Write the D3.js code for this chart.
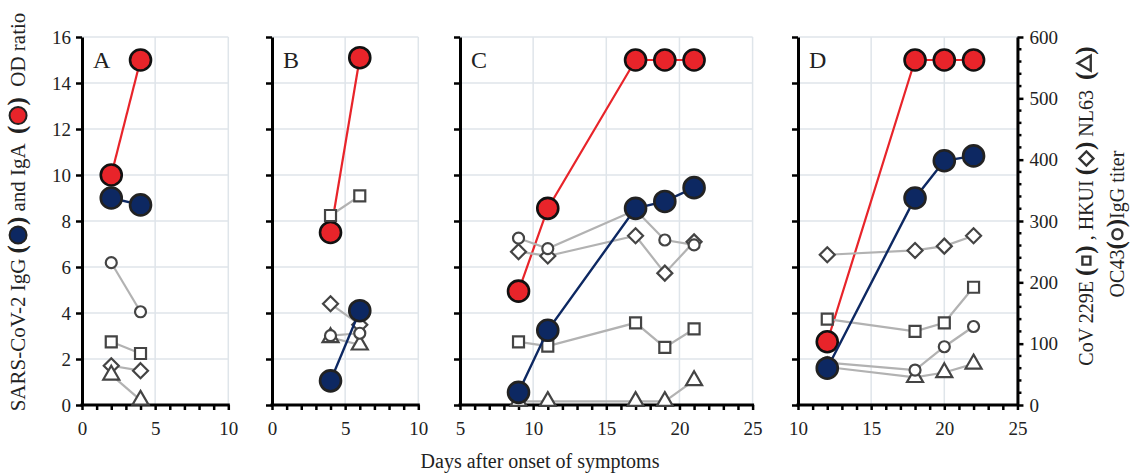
<!DOCTYPE html>
<html>
<head>
<meta charset="utf-8">
<script src="https://cdn.jsdelivr.net/npm/d3@7"></script>
<style>
  body { margin: 0; background: #fff; }
  text { font-family: "Liberation Serif", "DejaVu Serif", serif; fill: #222; }
</style>
</head>
<body>
<script>
const width = 1133;
const height = 475;

// data, one entry per panel
const panelNames = ["A", "B", "C", "D"];
const xDomains = [[0, 10], [0, 10], [5, 25], [10, 25]];
const days = [[2, 4], [4, 6], [9, 11, 17, 19, 21], [12, 18, 20, 22]];
const igaOD = [[10, 15], [7.5, 15.1], [4.95, 8.55, 15, 15, 15], [2.75, 15, 15, 15]];
const iggOD = [[9.0, 8.7], [1.05, 4.1], [0.55, 3.25, 8.55, 8.85, 9.45], [1.6, 9.0, 10.62, 10.83]];
const titer229E = [[103, 84], [309, 341], [103, 96, 134, 94, 124], [140, 120, 134, 192]];
const titerHKU1 = [[64, 56], [165, 131], [250, 243, 276, 215, 266], [245, 252, 259, 276]];
const titerNL63 = [[49, 8], [110, 98], [6, 6, 6, 6, 40], [62, 45, 53, 67]];
const titerOC43 = [[232, 152], [113, 117], [272, 255, 318, 269, 261], [69, 57, 95, 128]];
const odTicks = [0, 2, 4, 6, 8, 10, 12, 14, 16];
const titerTicks = [0, 100, 200, 300, 400, 500, 600];

const panelLeft = [82, 272, 460, 798];
const pxPerDay = 14.63;
const plotTop = 37, plotBottom = 405;
const serif = '"Liberation Serif", "DejaVu Serif", serif';

const red = "#e8242a", navy = "#0d2862", grey = "#b2b2b2", darkGrey = "#444";

const svg = d3.select("body").append("svg")
  .attr("width", width).attr("height", height);

const y = d3.scaleLinear().domain([0, 16]).range([plotBottom, plotTop]);
const yT = d3.scaleLinear().domain([0, 600]).range([plotBottom, plotTop]);

function diamondPath(s) {
  const h = s / 2;
  return `M0,${-h}L${h},0L0,${h}L${-h},0Z`;
}
const symbolPaths = {
  circle: d3.symbol(d3.symbolCircle, Math.PI * 5.5 * 5.5)(),
  square: d3.symbol(d3.symbolSquare, 11 * 11)(),
  diamond: diamondPath(15),
  triangle: d3.symbol(d3.symbolTriangle, Math.sqrt(3) / 4 * 16 * 16)()
};

const greySeries = [
  { vals: titer229E, sym: "square" },
  { vals: titerHKU1, sym: "diamond" },
  { vals: titerNL63, sym: "triangle" },
  { vals: titerOC43, sym: "circle" }
];

panelNames.forEach((name, i) => {
  const dom = xDomains[i];
  const x0 = panelLeft[i];
  const x = d3.scaleLinear().domain(dom).range([x0, x0 + (dom[1] - dom[0]) * pxPerDay]);
  const g = svg.append("g");

  // grid
  g.selectAll(".hg").data(odTicks.filter(d => d > 0)).join("line")
    .attr("x1", x.range()[0]).attr("x2", x.range()[1])
    .attr("y1", d => y(d)).attr("y2", d => y(d))
    .attr("stroke", "#dfe5ea").attr("stroke-width", 1.5);
  g.selectAll(".vg").data(d3.range(dom[0] + 5, dom[1] + 1, 5)).join("line")
    .attr("x1", d => x(d)).attr("x2", d => x(d))
    .attr("y1", plotTop).attr("y2", plotBottom)
    .attr("stroke", "#dfe5ea").attr("stroke-width", 1.5);

  // axes
  const xAxis = d3.axisBottom(x)
    .tickValues(d3.range(dom[0], dom[1] + 1, 1))
    .tickFormat(d => d % 5 === 0 ? d : "")
    .tickSize(5).tickSizeOuter(0).tickPadding(12);
  const gx = g.append("g").attr("transform", `translate(0,${plotBottom})`).call(xAxis);

  const yAxis = d3.axisLeft(y).tickValues(odTicks)
    .tickFormat(i === 0 ? d3.format("d") : "")
    .tickSize(6).tickSizeOuter(0).tickPadding(5);
  const gy = g.append("g").attr("transform", `translate(${x0},0)`).call(yAxis);

  [gx, gy].forEach(ax => {
    ax.attr("font-family", serif);
    ax.select(".domain").attr("stroke", "#000").attr("stroke-width", 3);
    ax.selectAll(".tick line").attr("stroke", "#000").attr("stroke-width", 2.5);
    ax.selectAll(".tick text").style("font-size", "19px").attr("fill", "#333");
  });
  // extend domain line a little past the corner
  gx.select(".domain").attr("d", `M${x0 - 1.5},0H${x.range()[1] + 1.5}`);

  g.append("text").attr("x", x0 + 11).attr("y", 68)
    .style("font-size", "24px").text(name);

  const line = d3.line().x(d => x(d[0])).y(d => d[1]);
  const pts = vals => days[i].map((d, k) => [d, vals[k]]);

  // IgA (red) first
  const redPts = pts(igaOD[i].map(v => y(v)));
  g.append("path").attr("d", line(redPts)).attr("fill", "none")
    .attr("stroke", red).attr("stroke-width", 2.2);
  g.selectAll(".iga").data(redPts).join("circle")
    .attr("cx", d => x(d[0])).attr("cy", d => d[1]).attr("r", 10.5)
    .attr("fill", red).attr("stroke", "#111").attr("stroke-width", 2.6);

  // seasonal coronavirus titers (grey)
  greySeries.forEach(s => {
    const p = pts(s.vals[i].map(v => yT(v)));
    g.append("path").attr("d", line(p)).attr("fill", "none")
      .attr("stroke", grey).attr("stroke-width", 2.2);
  });
  greySeries.forEach(s => {
    const p = pts(s.vals[i].map(v => yT(v)));
    g.selectAll(null).data(p).join("path")
      .attr("d", symbolPaths[s.sym])
      .attr("transform", d => `translate(${x(d[0])},${d[1]})`)
      .attr("fill", "#fff").attr("stroke", darkGrey).attr("stroke-width", 2.2);
  });

  // IgG (navy)
  const bluePts = pts(iggOD[i].map(v => y(v)));
  g.append("path").attr("d", line(bluePts)).attr("fill", "none")
    .attr("stroke", navy).attr("stroke-width", 2.4);
  g.selectAll(".igg").data(bluePts).join("circle")
    .attr("cx", d => x(d[0])).attr("cy", d => d[1]).attr("r", 10.5)
    .attr("fill", navy).attr("stroke", "#222").attr("stroke-width", 2.6);
});

// right titer axis
const rightX = panelLeft[3] + 15 * pxPerDay;
const gr = svg.append("g").attr("transform", `translate(${rightX},0)`)
  .call(d3.axisRight(yT).tickValues(titerTicks).tickSize(6).tickSizeOuter(0).tickPadding(6));
gr.attr("font-family", serif);
gr.select(".domain").attr("stroke", "#000").attr("stroke-width", 3);
gr.selectAll(".tick line").attr("stroke", "#000").attr("stroke-width", 2.5);
gr.selectAll(".tick text").style("font-size", "19px").attr("fill", "#333");
gr.selectAll(".minor").data(d3.range(20, 600, 20).filter(d => d % 100 !== 0)).join("line")
  .attr("x1", 0).attr("x2", 4).attr("y1", d => yT(d)).attr("y2", d => yT(d))
  .attr("stroke", "#000").attr("stroke-width", 2.5);

// x title
svg.append("text").attr("x", 540).attr("y", 468).attr("text-anchor", "middle")
  .style("font-size", "20px").text("Days after onset of symptoms");

// rich labels with inline marker icons
function richLabel(parent, pieces, fontSize) {
  const g = parent.append("g");
  let cx = 0;
  pieces.forEach(p => {
    if (p.text !== undefined) {
      const t = g.append("text").attr("x", cx).attr("y", 0)
        .style("font-size", (p.size || fontSize) + "px")
        .style("font-weight", p.bold ? "bold" : "normal")
        .attr("fill", "#333")
        .attr("xml:space", "preserve").text(p.text);
      cx += t.node().getComputedTextLength();
    } else {
      const w = p.w;
      if (p.sym === "bigdot") {
        g.append("circle").attr("cx", cx + w / 2).attr("cy", -fontSize * 0.33)
          .attr("r", w / 2 - 1.5).attr("fill", p.fill).attr("stroke", "#222").attr("stroke-width", 2);
      } else {
        g.append("path").attr("d", p.path)
          .attr("transform", `translate(${cx + w / 2},${-fontSize * 0.33})`)
          .attr("fill", "#fff").attr("stroke", "#333").attr("stroke-width", 2.4);
      }
      cx += w;
    }
  });
  g.selectAll("text").attr("x", function () { return +this.getAttribute("x") - cx / 2; });
  g.selectAll("circle").attr("cx", function () { return +this.getAttribute("cx") - cx / 2; });
  g.selectAll("path").attr("transform", function () {
    const m = this.getAttribute("transform").match(/translate\(([-\d.]+),([-\d.]+)\)/);
    return `translate(${+m[1] - cx / 2},${m[2]})`;
  });
  return { g, len: cx };
}

const paren = (t) => ({ text: t, bold: true, size: 25 });

const leftT = richLabel(svg, [
  { text: "SARS-CoV-2 IgG " }, paren("("), { sym: "bigdot", w: 20, fill: navy }, paren(")"),
  { text: " and IgA  " }, paren("("), { sym: "bigdot", w: 20, fill: red }, paren(")"),
  { text: "  OD ratio" }
], 21);
leftT.g.attr("transform", "translate(25,212) rotate(-90)");

const smallSym = {
  square: d3.symbol(d3.symbolSquare, 64)(),
  diamond: diamondPath(14),
  triangle: d3.symbol(d3.symbolTriangle, Math.sqrt(3) / 4 * 15 * 15)(),
  circle: d3.symbol(d3.symbolCircle, Math.PI * 25)()
};

const r1 = richLabel(svg, [
  { text: "CoV 229E " }, paren("("), { sym: "s", w: 14, path: smallSym.square }, paren(")"),
  { text: " , HKUI " }, paren("("), { sym: "s", w: 17, path: smallSym.diamond }, paren(")"),
  { text: " NL63  " }, paren("("), { sym: "s", w: 17, path: smallSym.triangle }, paren(")")
], 20);
r1.g.attr("transform", "translate(1093,206) rotate(-90)");

const r2 = richLabel(svg, [
  { text: "OC43" }, paren("("), { sym: "s", w: 14, path: smallSym.circle }, paren(")"),
  { text: "IgG titer" }
], 20);
r2.g.attr("transform", "translate(1124,224) rotate(-90)");
</script>
</body>
</html>
